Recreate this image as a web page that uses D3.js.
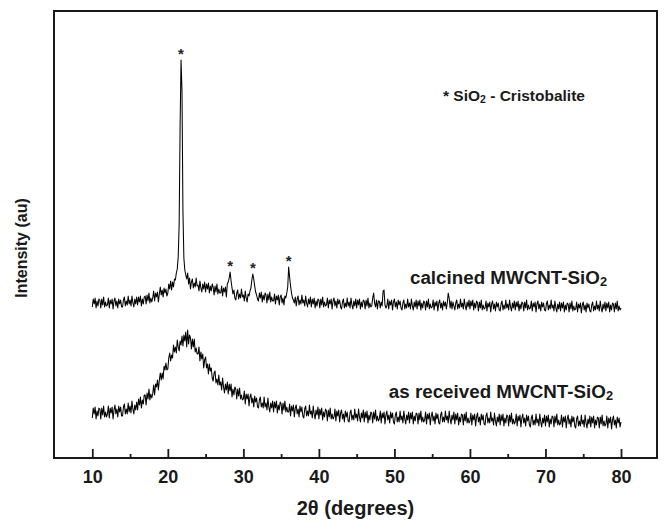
<!DOCTYPE html>
<html><head><meta charset="utf-8">
<script src="https://cdn.jsdelivr.net/npm/d3@7/dist/d3.min.js"></script>
<style>html,body{margin:0;padding:0;background:#fff}svg{display:block}</style>
</head><body>
<svg id="chart" width="664" height="525"></svg>
<script>
// 2-theta sampling grid (degrees)
const twoThetaStart = 10;
const twoThetaStep = 0.125;

// calcined MWCNT-SiO2 intensity (a.u.), one row per degree (10..79) + 80
const calcined = [
149,157,152,158,148,155,150,157,
156,148,157,151,159,149,154,150,
151,158,148,156,152,157,147,155,
158,150,155,148,157,152,156,149,
149,156,159,150,155,151,160,152,
156,150,160,153,149,157,152,159,
151,159,154,160,150,157,152,159,
160,152,161,155,163,153,158,154,
158,165,155,163,159,164,154,162,
169,161,166,159,168,163,167,160,
163,172,167,175,166,174,169,177,
176,183,187,199,232,330,396,365,
245,198,186,181,177,183,172,178,
167,174,177,168,173,169,178,170,
171,165,175,168,164,172,167,174,
164,172,167,173,163,170,165,172,
169,161,170,164,172,162,167,163,
163,170,160,168,164,169,159,172,
174,178,184,175,168,162,166,158,
156,163,166,157,162,158,167,159,
161,155,165,158,154,162,160,165,
168,176,182,177,170,164,161,157,
155,163,158,164,154,161,156,163,
161,153,162,156,164,154,159,155,
155,162,152,160,156,161,151,159,
161,153,158,151,160,158,163,169,
189,179,170,163,158,156,153,159,
150,157,160,151,156,152,161,153,
156,150,160,153,149,157,152,159,
149,157,152,158,148,155,150,157,
156,148,157,151,159,149,154,150,
151,158,148,156,152,157,147,155,
158,150,155,148,157,152,156,149,
147,154,157,148,153,149,158,150,
154,148,158,151,147,155,150,157,
148,156,151,157,147,154,149,156,
155,147,156,150,158,148,153,149,
150,158,163,153,149,156,147,155,
155,148,154,150,165,166,151,148,
150,157,147,155,151,156,146,154,
157,149,154,147,156,151,155,148,
146,153,156,147,152,148,157,149,
153,147,157,150,146,154,149,156,
147,155,150,156,146,153,148,155,
154,146,155,149,157,147,152,148,
149,156,146,154,150,155,145,153,
156,148,153,146,155,150,154,147,
153,163,158,148,155,147,154,150,
146,153,156,147,152,148,157,149,
153,147,157,150,146,154,149,156,
147,155,150,156,146,153,148,155,
153,145,154,148,156,146,151,147,
148,155,145,153,149,154,144,152,
155,147,152,145,154,149,153,146,
145,152,155,146,151,147,156,148,
152,146,156,149,145,153,148,155,
146,154,149,155,145,152,147,154,
153,145,154,148,156,146,151,147,
148,155,145,153,149,154,144,152,
155,147,152,145,154,149,153,146,
145,152,155,146,151,147,156,148,
151,145,155,148,144,152,147,154,
145,153,148,154,144,151,146,153,
152,144,153,147,155,145,150,146,
147,154,144,152,148,153,143,151,
154,146,151,144,153,148,152,145,
144,151,154,145,150,146,155,147,
151,145,155,148,144,152,147,154,
145,153,148,154,144,151,146,153,
152,144,153,147,155,145,150,146,
148
];

// as received MWCNT-SiO2 intensity (a.u.)
const asReceived = [
38,48,42,49,37,45,40,48,
47,37,48,41,50,39,44,39,
42,50,38,48,43,49,37,46,
51,42,47,39,50,44,49,40,
40,49,52,42,47,42,53,44,
50,43,55,47,42,51,46,54,
46,57,51,59,48,56,52,61,
61,51,63,57,67,56,62,58,
62,71,61,72,69,76,66,76,
83,76,83,77,90,86,93,86,
87,98,103,95,101,98,111,104,
109,103,116,109,105,115,111,120,
110,121,115,124,109,126,112,121,
118,107,117,109,117,104,108,102,
102,109,95,104,97,102,88,96,
99,88,92,82,92,85,88,78,
75,83,85,73,77,71,81,71,
74,66,78,69,63,72,66,74,
62,72,65,72,59,67,61,69,
67,57,67,60,68,57,61,56,
57,65,52,62,57,62,50,59,
62,53,58,49,60,54,58,49,
48,56,59,49,53,48,59,49,
53,46,58,49,44,53,48,55,
44,54,48,55,43,51,46,54,
52,42,53,46,55,44,49,44,
44,52,40,50,45,51,39,48,
51,42,47,39,50,44,49,40,
38,47,50,40,45,40,51,42,
45,38,50,42,37,46,41,49,
37,47,41,48,36,44,39,47,
45,35,46,39,48,37,42,37,
39,47,35,45,40,46,34,43,
46,37,42,34,45,39,44,35,
34,43,46,36,41,36,47,38,
42,35,47,39,34,43,38,46,
34,44,38,45,33,41,36,44,
43,33,44,37,46,35,40,35,
37,45,33,43,38,44,32,41,
45,36,41,33,44,38,43,34,
32,41,44,34,39,34,45,36,
40,33,45,37,32,41,36,44,
33,43,37,44,32,40,35,43,
42,32,43,36,45,34,39,34,
36,44,32,42,37,43,31,40,
44,35,40,32,43,37,42,33,
32,41,44,34,39,34,45,36,
40,33,45,37,32,41,36,44,
32,42,36,43,31,39,34,42,
41,31,42,35,44,33,38,33,
35,43,31,41,36,42,30,39,
43,34,39,31,42,36,41,32,
31,40,43,33,38,33,44,35,
38,31,43,35,30,39,34,42,
31,41,35,42,30,38,33,41,
40,30,41,34,43,32,37,32,
34,42,30,40,35,41,29,38,
42,33,38,30,41,35,40,31,
29,38,41,31,36,31,42,33,
37,30,42,34,29,38,33,41,
30,40,34,41,29,37,32,40,
39,29,40,33,42,31,36,31,
33,41,29,39,34,40,28,37,
41,32,37,29,40,34,39,30,
28,37,40,30,35,30,41,32,
36,29,41,33,28,37,32,40,
29,39,33,40,28,36,31,39,
38,28,39,32,41,30,35,30,
32,40,28,38,33,39,27,36,
40,31,36,28,39,33,38,29,
34
];

const xMajorTicks = [10, 20, 30, 40, 50, 60, 70, 80];
const xMinorTicks = [15, 25, 35, 45, 55, 65, 75];
const cristobalitePeaks = [21.75, 28.25, 31.25, 36.0];
const seriesLabels = ["calcined MWCNT-SiO", "as received MWCNT-SiO"];

const svg = d3.select("#chart");
const FONT = "'Liberation Sans', Arial, Helvetica, sans-serif";

const frame = {left: 54, right: 657, top: 11, bottom: 458};
const x = d3.scaleLinear().domain([10, 80]).range([92.3, 621]);
const y = d3.scaleLinear().domain([0, 445]).range([456, 11]);

const toPoints = arr => arr.map((v, i) => [twoThetaStart + i * twoThetaStep, v]);
const calcPts = toPoints(calcined);
const asPts = toPoints(asReceived);

const line = d3.line().x(d => x(d[0])).y(d => y(d[1]));

// data lines
[asPts, calcPts].forEach(pts => {
  svg.append("path")
    .attr("d", line(pts))
    .attr("fill", "none")
    .attr("stroke", "#000")
    .attr("stroke-width", 1.05)
    .attr("stroke-linejoin", "round");
});

// frame
svg.append("rect")
  .attr("x", frame.left).attr("y", frame.top)
  .attr("width", frame.right - frame.left)
  .attr("height", frame.bottom - frame.top)
  .attr("fill", "none").attr("stroke", "#1a1a1a").attr("stroke-width", 2);

// x axis: major ticks (inward)
const gx = svg.append("g").attr("transform", `translate(0,${frame.bottom})`)
  .call(d3.axisBottom(x).tickValues(xMajorTicks).tickSize(-9).tickPadding(12).tickFormat(d3.format("d")));
gx.select(".domain").remove();
gx.selectAll(".tick line").attr("stroke", "#1a1a1a").attr("stroke-width", 1.8);
gx.selectAll(".tick text").attr("font-family", FONT).attr("font-weight", "bold")
  .attr("font-size", 18).attr("fill", "#1a1a1a");

// minor ticks
const gm = svg.append("g").attr("transform", `translate(0,${frame.bottom})`)
  .call(d3.axisBottom(x).tickValues(xMinorTicks).tickSize(-4).tickFormat(""));
gm.select(".domain").remove();
gm.selectAll(".tick line").attr("stroke", "#1a1a1a").attr("stroke-width", 1.8);

// axis titles
svg.append("text")
  .attr("x", (frame.left + frame.right) / 2).attr("y", 515)
  .attr("text-anchor", "middle")
  .attr("font-family", FONT).attr("font-weight", "bold").attr("font-size", 20)
  .attr("fill", "#1a1a1a")
  .text("2θ (degrees)");

svg.append("text")
  .attr("transform", "translate(27,248) rotate(-90)")
  .attr("text-anchor", "middle")
  .attr("font-family", FONT).attr("font-weight", "bold").attr("font-size", 16)
  .attr("fill", "#1a1a1a")
  .text("Intensity (au)");

// peak markers
cristobalitePeaks.forEach(p => {
  const near = calcPts.filter(d => Math.abs(d[0] - p) <= 0.25);
  const top = d3.max(near, d => d[1]);
  svg.append("text")
    .attr("x", x(p)).attr("y", y(top) - 1)
    .attr("text-anchor", "middle")
    .attr("font-family", FONT).attr("font-weight", "bold").attr("font-size", 15)
    .attr("fill", "#222")
    .text("*");
});

// series labels with subscript 2
function subLabel(xEnd, yBase, main, size) {
  const t = svg.append("text")
    .attr("x", xEnd).attr("y", yBase)
    .attr("text-anchor", "end")
    .attr("font-family", FONT).attr("font-weight", "bold").attr("font-size", size)
    .attr("fill", "#1a1a1a");
  t.append("tspan").text(main);
  t.append("tspan").attr("font-size", size * 0.68).attr("dy", 2).text("2");
}
subLabel(607, 284, seriesLabels[0], 18.8);
subLabel(613, 398, seriesLabels[1], 18.8);

// legend note
const note = svg.append("text")
  .attr("x", 443).attr("y", 101)
  .attr("font-family", FONT).attr("font-weight", "bold").attr("font-size", 15.5)
  .attr("fill", "#1a1a1a");
note.append("tspan").text("* SiO");
note.append("tspan").attr("font-size", 10.5).attr("dy", 2).text("2");
note.append("tspan").attr("dy", -2).text(" - Cristobalite");
</script>
</body></html>
